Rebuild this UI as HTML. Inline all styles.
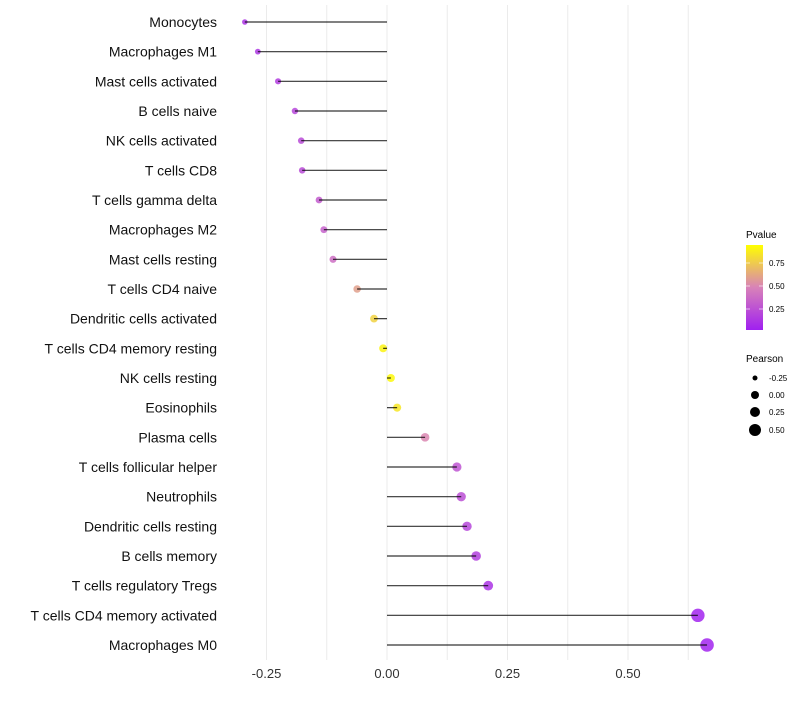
<!DOCTYPE html>
<html><head><meta charset="utf-8"><style>
body{margin:0;background:#fff;font-family:"Liberation Sans",sans-serif}
</style></head><body>
<svg id="chart" width="800" height="700" xmlns="http://www.w3.org/2000/svg">
<defs><linearGradient id="pg" x1="0" y1="1" x2="0" y2="0">
<stop offset="0" stop-color="#a020f0"/><stop offset="0.5" stop-color="#d882b8"/><stop offset="1" stop-color="#ffff00"/></linearGradient></defs>
<g id="grid"></g><g id="marks"></g><g id="labels"></g>
<g font-size="10">
<text x="746" y="238" fill="#000">Pvalue</text>
<rect x="746" y="245" width="17" height="85" fill="url(#pg)"/>
<g stroke="#fff" stroke-opacity="0.6"><line x1="746" x2="750" y1="263" y2="263"/><line x1="759" x2="763" y1="263" y2="263"/><line x1="746" x2="750" y1="286" y2="286"/><line x1="759" x2="763" y1="286" y2="286"/><line x1="746" x2="750" y1="309" y2="309"/><line x1="759" x2="763" y1="309" y2="309"/></g>
<g font-size="8"><text x="769" y="266">0.75</text><text x="769" y="289">0.50</text><text x="769" y="312">0.25</text></g>
</g>
<g font-size="10">
<text x="746" y="362">Pearson</text>
<circle cx="755" cy="378" r="2.5"/><circle cx="755" cy="395" r="4"/><circle cx="755" cy="412" r="5"/><circle cx="755" cy="430" r="6"/>
<g font-size="8"><text x="769" y="381">-0.25</text><text x="769" y="398">0.00</text><text x="769" y="415">0.25</text><text x="769" y="433">0.50</text></g>
</g>
</svg>
<script>
const categories=["Monocytes","Macrophages M1","Mast cells activated","B cells naive","NK cells activated","T cells CD8","T cells gamma delta","Macrophages M2","Mast cells resting","T cells CD4 naive","Dendritic cells activated","T cells CD4 memory resting","NK cells resting","Eosinophils","Plasma cells","T cells follicular helper","Neutrophils","Dendritic cells resting","B cells memory","T cells regulatory  Tregs","T cells CD4 memory activated","Macrophages M0"];
const pearson=[-0.295,-0.268,-0.226,-0.191,-0.178,-0.176,-0.141,-0.131,-0.112,-0.062,-0.027,-0.008,0.008,0.021,0.079,0.145,0.154,0.166,0.185,0.21,0.645,0.664];
const pvalue=[0.1,0.12,0.15,0.2,0.22,0.22,0.3,0.33,0.4,0.62,0.82,0.95,0.97,0.9,0.52,0.27,0.24,0.2,0.16,0.1,0.02,0.02];
const ticks=[-0.25,0,0.25,0.5];
const tickLabels=["-0.25","0.00","0.25","0.50"];
const NS="http://www.w3.org/2000/svg";
const x=v=>387+v*482;
const y=i=>22+i*(623/21);
const rad=v=>4+v*4.2;
function col(p){const lo=[160,32,240],mid=[216,130,184],hi=[255,255,0];let a,b,t;if(p<0.5){a=lo;b=mid;t=p/0.5}else{a=mid;b=hi;t=(p-0.5)/0.5}return `rgb(${a.map((c,k)=>Math.round(c+(b[k]-c)*t)).join(',')})`}
function mk(tag,attrs,parent){const e=document.createElementNS(NS,tag);for(const k in attrs)e.setAttribute(k,attrs[k]);parent.appendChild(e);return e}
const grid=document.getElementById('grid'),marks=document.getElementById('marks'),labels=document.getElementById('labels');
for(let v=-0.25;v<=0.625;v+=0.125){const l=mk('line',{x1:x(v),x2:x(v),y1:5,y2:660,stroke:'#ebebeb','stroke-width':1},grid);

}
ticks.forEach((t,i)=>{const tx=mk('text',{x:x(t),y:678,'text-anchor':'middle','font-size':13,fill:'#333'},labels);tx.textContent=tickLabels[i];

});
categories.forEach((c,i)=>{
const t=mk('text',{x:217,y:y(i)+5,'text-anchor':'end','font-size':14,fill:'#111'},labels);t.textContent=c;


const p=mk('circle',{cx:x(pearson[i]),cy:y(i),r:rad(pearson[i]),fill:col(pvalue[i]),'fill-opacity':0.85},marks);


const s=mk('line',{x1:x(0),x2:x(pearson[i]),y1:y(i),y2:y(i),stroke:'#000','stroke-width':1.2,'stroke-opacity':0.8},marks);


});
</script>
</body></html>
